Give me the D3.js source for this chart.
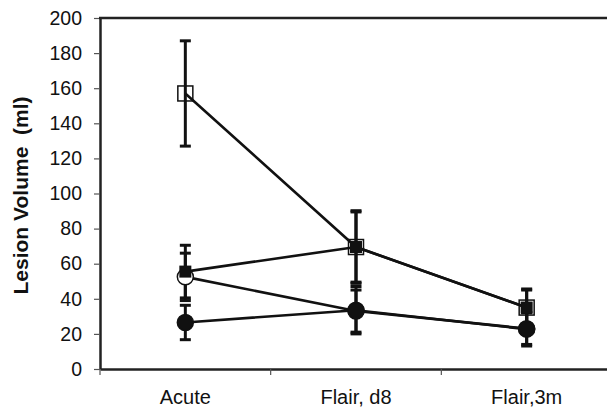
<!DOCTYPE html>
<html>
<head>
<meta charset="utf-8">
<script src="https://cdn.jsdelivr.net/npm/d3@7/dist/d3.min.js"></script>
<style>
  html, body { margin: 0; padding: 0; background: #fff; }
  svg { display: block; font-family: "Liberation Sans", Arial, sans-serif; }
</style>
</head>
<body>
<svg id="chart" width="607" height="412"></svg>
<script>
// Time points
const categories = ["Acute", "Flair, d8", "Flair,3m"];

// Lesion volume means (ml) and error half-widths per group
const openSquare      = [157, 69.5, 35];
const openSquareErr   = [30, 20.7, 10.6];
const filledSquare    = [55.5, 69.5, 35];
const filledSquareErr = [15, 20, 10];
const openCircle      = [52.5, 33, 23];
const openCircleErr   = [13.5, 12, 9];
const filledCircle    = [26.5, 33.5, 22.7];
const filledCircleErr = [9.8, 13.5, 9.6];

const yTicks = [0, 20, 40, 60, 80, 100, 120, 140, 160, 180, 200];

const svg = d3.select("#chart");
const plotLeft = 100, plotTop = 18, plotBottom = 369, plotRight = 612;
const ink = "#111";

const x = d3.scaleBand().domain(categories).range([plotLeft, plotRight]).padding(0);
const y = d3.scaleLinear().domain([0, 200]).range([plotBottom, plotTop]);
const cx = c => x(c) + x.bandwidth() / 2;

// Y axis
const yAxis = svg.append("g")
  .attr("transform", `translate(${plotLeft},0)`)
  .call(d3.axisLeft(y).tickValues(yTicks).tickSize(6).tickPadding(12).tickSizeOuter(0));
yAxis.select(".domain").attr("stroke", "#222").attr("stroke-width", 2.5);
yAxis.selectAll(".tick line").attr("stroke", "#555").attr("stroke-width", 1.2);
yAxis.selectAll(".tick text").attr("font-size", 19.5).attr("fill", "#111")
  .attr("font-family", "'Liberation Sans', Arial, sans-serif");

// X axis (ticks at category boundaries)
const xAxis = svg.append("g")
  .attr("transform", `translate(0,${plotBottom})`)
  .call(d3.axisBottom(x).tickSize(0).tickPadding(21));
xAxis.select(".domain").attr("stroke", "#222").attr("stroke-width", 2.5);
xAxis.selectAll(".tick text").attr("font-size", 20).attr("fill", "#111")
  .attr("font-family", "'Liberation Sans', Arial, sans-serif");
categories.forEach(c => {
  svg.append("line")
    .attr("x1", x(c)).attr("x2", x(c))
    .attr("y1", plotBottom).attr("y2", plotBottom + 6)
    .attr("stroke", "#555").attr("stroke-width", 1.2);
});

// Top frame line
svg.append("line")
  .attr("x1", plotLeft - 1).attr("x2", 607)
  .attr("y1", y(200)).attr("y2", y(200))
  .attr("stroke", "#222").attr("stroke-width", 2.5);

// Y axis title
svg.append("text")
  .attr("transform", `translate(28,${(plotTop + plotBottom) / 2 + 2}) rotate(-90)`)
  .attr("text-anchor", "middle")
  .attr("font-size", 21).attr("font-weight", "bold").attr("fill", "#111")
  .attr("xml:space", "preserve")
  .text("Lesion Volume  (ml)");

const series = [
  { vals: openCircle,   err: openCircleErr,   shape: "circle", filled: false },
  { vals: openSquare,   err: openSquareErr,   shape: "square", filled: false },
  { vals: filledSquare, err: filledSquareErr, shape: "square", filled: true },
  { vals: filledCircle, err: filledCircleErr, shape: "circle", filled: true }
];

const line = d3.line().x((d, i) => cx(categories[i])).y(d => y(d));

// Connecting lines
series.forEach(s => {
  svg.append("path")
    .attr("d", line(s.vals))
    .attr("fill", "none").attr("stroke", ink).attr("stroke-width", 2.6);
});

// Error bars
series.forEach(s => {
  s.vals.forEach((v, i) => {
    const px = cx(categories[i]);
    const g = svg.append("g").attr("stroke", ink);
    g.append("line").attr("x1", px).attr("x2", px)
      .attr("y1", y(v + s.err[i])).attr("y2", y(v - s.err[i]))
      .attr("stroke-width", 3);
    [v + s.err[i], v - s.err[i]].forEach(e => {
      g.append("line").attr("x1", px - 5.5).attr("x2", px + 5.5)
        .attr("y1", y(e)).attr("y2", y(e)).attr("stroke-width", 3);
    });
  });
});

// Markers
series.forEach(s => {
  s.vals.forEach((v, i) => {
    const px = cx(categories[i]), py = y(v);
    if (s.shape === "circle") {
      svg.append("circle").attr("cx", px).attr("cy", py).attr("r", 8)
        .attr("fill", s.filled ? ink : "#fff")
        .attr("stroke", ink).attr("stroke-width", 1.5);
    } else if (s.filled) {
      svg.append("rect").attr("x", px - 6).attr("y", py - 6)
        .attr("width", 12).attr("height", 12).attr("fill", ink);
    } else {
      svg.append("rect").attr("x", px - 7.5).attr("y", py - 7.5)
        .attr("width", 15).attr("height", 15)
        .attr("fill", "none").attr("stroke", ink).attr("stroke-width", 1.5);
    }
  });
});
</script>
</body>
</html>
